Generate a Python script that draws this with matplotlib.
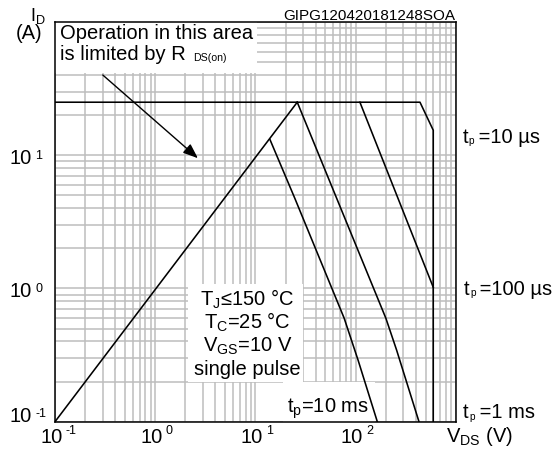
import matplotlib
matplotlib.use('Agg')
import matplotlib.pyplot as plt
from matplotlib.patches import Rectangle
from matplotlib.ticker import LogLocator, NullFormatter

plt.rcParams['font.family'] = ['Liberation Sans', 'DejaVu Sans']
plt.rcParams['mathtext.fontset'] = 'custom'
plt.rcParams['mathtext.rm'] = 'Liberation Sans'
plt.rcParams['mathtext.it'] = 'Liberation Sans:italic'

# Safe operating area, single pulse, Tc = 25 C
v_rds = [0.1, 26.2]          # R_DS(on) limit
i_rds = [0.1, 25.0]
v_10us = [0.1, 440, 597, 597]
i_10us = [25.0, 25.0, 15.4, 0.1]
v_100us = [110.6, 597]
i_100us = [25.0, 1.02]
v_1ms = [26.2, 201, 257, 430]
i_1ms = [25.0, 0.597, 0.345, 0.1]
v_10ms = [14.0, 24.8, 77.1, 106, 165]
i_10ms = [13.1, 4.74, 0.597, 0.290, 0.1]

arrow_from = (0.30, 40.0)
arrow_to = (2.67, 9.5)

x_decades = [-1, 0, 1, 2]
y_decades = [-1, 0, 1]

W, H = 560, 450


def px(x, y):
    # pixel position (from top left) -> figure fraction
    return x / W, 1 - y / H


def tp_label(x, y, rest, size=14.5):
    # t with a tiny p subscript, then the rest of the label
    fig.text(*px(x, y), 't', fontsize=size, va='baseline')
    fig.text(*px(x + 6, y + 1.5), 'p', fontsize=size * 0.5, va='baseline')
    fig.text(*px(x + 10.5, y), rest, fontsize=size, va='baseline')


fig = plt.figure(figsize=(5.6, 4.5), dpi=100)
ax = fig.add_axes([55 / W, 1 - 421.7 / H, 400.7 / W, 399.7 / H])
ax.set_xscale('log')
ax.set_yscale('log')
ax.set_xlim(0.1, 1000)
ax.set_ylim(0.1, 100)
for axis in (ax.xaxis, ax.yaxis):
    axis.set_major_locator(LogLocator(base=10))
    axis.set_minor_locator(LogLocator(base=10, subs=range(2, 10)))
    axis.set_minor_formatter(NullFormatter())
ax.tick_params(which='both', length=0, labelbottom=False, labelleft=False)
ax.set_axisbelow(True)
ax.grid(True, which='both', color='#bdbdbd', lw=1.1)
for s in ax.spines.values():
    s.set_linewidth(1.1)
    s.set_zorder(6)

# white areas behind the notes
for x0, y0, w, h in [(0, 0.8717, 0.503, 0.1283),
                     (0.332, 0.10, 0.287, 0.245),
                     (0.568, 0.0, 0.231, 0.10)]:
    ax.add_patch(Rectangle((x0, y0), w, h, transform=ax.transAxes,
                           fc='white', ec='none', zorder=1))

line_kw = dict(color='black', lw=1.15, zorder=3)
ax.plot(v_rds, i_rds, **line_kw)
ax.plot(v_10us, i_10us, **line_kw)
ax.plot(v_100us, i_100us, **line_kw)
ax.plot(v_1ms, i_1ms, **line_kw)
ax.plot(v_10ms, i_10ms, **line_kw)

ax.annotate('', xy=arrow_to, xytext=arrow_from,
            arrowprops=dict(arrowstyle='-|>,head_length=0.9,head_width=0.35',
                            color='black', lw=1.0, shrinkA=0, shrinkB=0),
            zorder=4)

# tick labels as 10 with small raised exponent
xt = ax.get_xaxis_transform()
for d in x_decades:
    ax.annotate('10', (10.0 ** d, 0), xycoords=xt, xytext=(7.5, -21.3),
                textcoords='offset pixels', ha='right', va='baseline',
                fontsize=14.5, annotation_clip=False)
    ax.annotate(str(d), (10.0 ** d, 0), xycoords=xt,
                xytext=(10.5, -12.8), textcoords='offset pixels',
                ha='left', va='baseline', fontsize=9, annotation_clip=False)
yt = ax.get_yaxis_transform()
for d, dy in zip(y_decades, [0, -9, -9]):
    ax.annotate('10', (0, 10.0 ** d), xycoords=yt, xytext=(-23.3, dy),
                textcoords='offset pixels', ha='right', va='baseline',
                fontsize=14.5, annotation_clip=False)
    ax.annotate(str(d), (0, 10.0 ** d), xycoords=yt, xytext=(-20, dy + 5),
                textcoords='offset pixels', ha='left', va='baseline',
                fontsize=9, annotation_clip=False)

fig.text(*px(30, 21), r'I$_\mathregular{D}$', fontsize=13, va='baseline')
fig.text(*px(16, 39), '(A)', fontsize=14.5, va='baseline')
fig.text(*px(446, 442), r'V$_\mathregular{DS}$ (V)', fontsize=14.5,
         va='baseline')
fig.text(*px(455.7, 20), 'GIPG120420181248SOA', fontsize=11, ha='right',
         va='baseline')

fig.text(*px(60.5, 39.3), 'Operation in this area', fontsize=14.5,
         va='baseline')
fig.text(*px(60.5, 60), 'is limited by R', fontsize=14.5, va='baseline')
fig.text(*px(193, 61), 'DS(on)', fontsize=7.6, va='baseline')

for y, s in zip([306, 329, 352, 375],
                [r'T$_\mathregular{J}$≤150 °C', r'T$_\mathregular{C}$=25 °C',
                 r'V$_\mathregular{GS}$=10 V', 'single pulse']):
    fig.text(*px(247.5, y), s, fontsize=14.5, ha='center', va='baseline')

fig.text(*px(287, 413), r't$_\mathregular{p}$=10 ms', fontsize=14.5,
         va='baseline')
tp_label(462.5, 143, ' =10 µs')
tp_label(464, 295, ' =100 µs')
tp_label(463, 418, ' =1 ms')

fig.savefig('out.png', dpi=100)
